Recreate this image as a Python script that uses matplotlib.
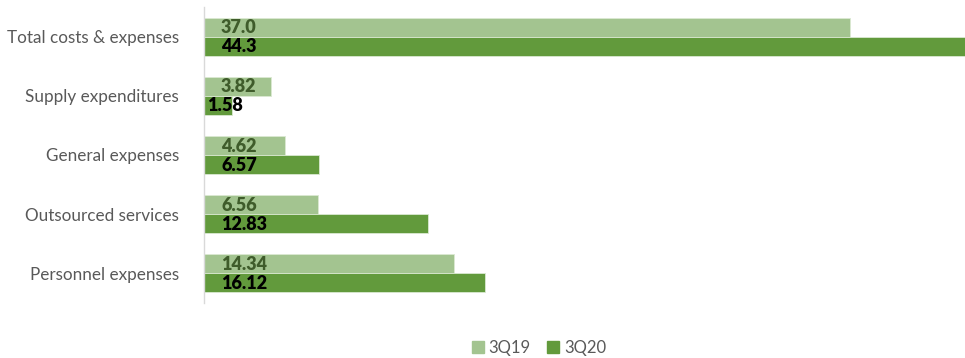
import matplotlib
matplotlib.use("Agg")
import matplotlib.pyplot as plt
from matplotlib.patches import Patch

categories = ["Total costs & expenses", "Supply expenditures", "General expenses",
              "Outsourced services", "Personnel expenses"]
vals_3q19 = [37.0, 3.82, 4.62, 6.56, 14.34]
vals_3q20 = [44.3, 1.58, 6.57, 12.83, 16.12]
labels_3q19 = ["37.0", "3.82", "4.62", "6.56", "14.34"]
labels_3q20 = ["44.3", "1.58", "6.57", "12.83", "16.12"]
series = ["3Q19", "3Q20"]

light, dark = "#a3c490", "#629a3c"
W, H = 965, 358
fig = plt.figure(figsize=(W / 100, H / 100), dpi=100)
ax = fig.add_axes([204 / W, 1 - 303 / H, 1 - 204 / W, 296 / H])

px_per_unit = 17.45
xmax = (W - 204) / px_per_unit
ys = list(range(len(categories)))
h = 0.32
ax.barh([y - h / 2 for y in ys], vals_3q19, height=h, color=light,
        edgecolor="#dbe9d2", linewidth=0.6, label=series[0])
ax.barh([y + h / 2 for y in ys], vals_3q20, height=h, color=dark,
        edgecolor="#dbe9d2", linewidth=0.6, label=series[1])

fam = ["Lato", "DejaVu Sans"]
for y, v, t in zip(ys, vals_3q19, labels_3q19):
    off = 17 if v * px_per_unit > 40 else 3
    ax.text(off / px_per_unit, y - h / 2 + 0.01, t, ha="left", va="center",
            fontsize=13, fontweight="heavy", color="#3f5c2b", family=fam)
for y, v, t in zip(ys, vals_3q20, labels_3q20):
    off = 17 if v * px_per_unit > 40 else 3
    ax.text(off / px_per_unit, y + h / 2 + 0.01, t, ha="left", va="center",
            fontsize=13, fontweight="heavy", color="black", family=fam)

ax.set_xlim(0, xmax)
ax.set_ylim(len(categories) - 0.5, -0.5)
ax.set_yticks(ys)
ax.set_yticklabels(categories, fontsize=12.3, color="#595959", family=fam)
ax.tick_params(axis="y", length=0, pad=18)
ax.set_xticks([])
for s in ["top", "right", "bottom"]:
    ax.spines[s].set_visible(False)
ax.spines["left"].set_color("#d9d9d9")
ax.spines["left"].set_linewidth(1)

handles = [Patch(color=light, label=series[0]), Patch(color=dark, label=series[1])]
fig.legend(handles=handles, loc="center", bbox_to_anchor=(539 / W, 1 - 348 / H),
           ncol=2, frameon=False, prop={"family": fam, "size": 12},
           handlelength=0.7, handleheight=0.7, handletextpad=0.3, columnspacing=1.0,
           labelcolor="#595959")

fig.savefig("out.png", dpi=100)
